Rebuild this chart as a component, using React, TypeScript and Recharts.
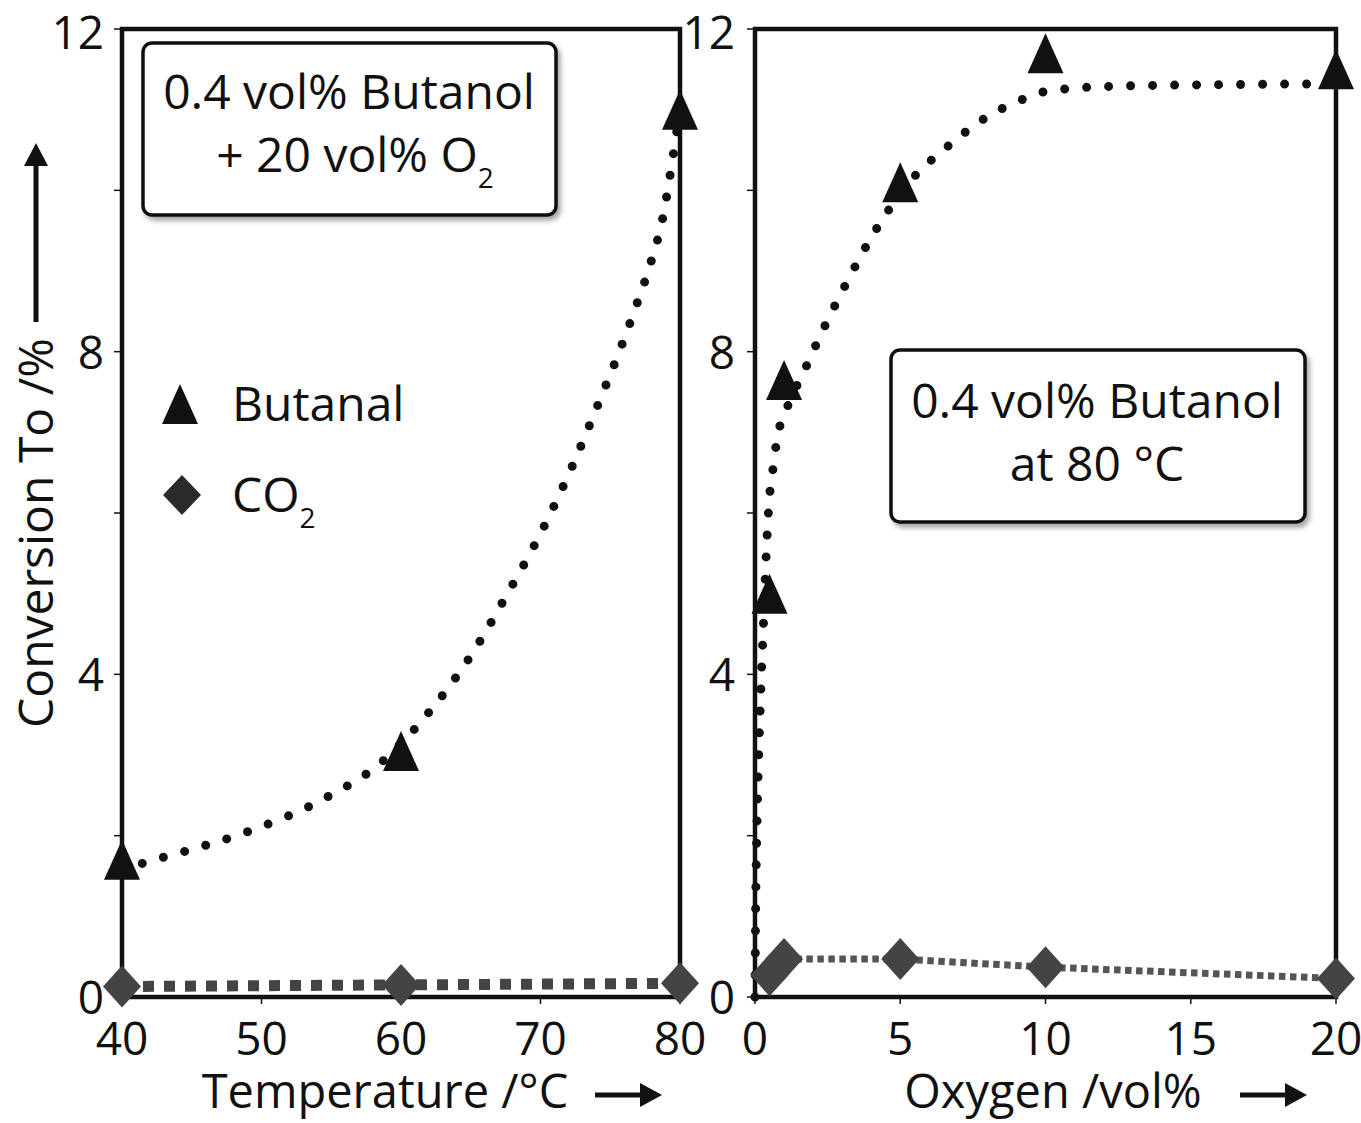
import React from "react";
import {
  ComposedChart,
  Line,
  Scatter,
  XAxis,
  YAxis,
  ReferenceArea,
} from "recharts";

// left panel: temperature series
const tempX = [40, 60, 80];
const tempButanal = [1.7, 3.05, 11.0];
const tempCO2 = [0.13, 0.15, 0.17];
const tempFitX = [40, 41.2, 44, 48.7, 54.5, 58.6, 62, 65, 67.6, 70.1, 72.3, 74.3, 75.6, 76.8, 77.9, 78.8, 79.4, 80];
const tempFitY = [1.55, 1.64, 1.78, 2.03, 2.46, 2.91, 3.53, 4.23, 4.99, 5.78, 6.59, 7.42, 7.98, 8.54, 9.1, 9.69, 10.31, 11.0];
const tempTicks = [40, 50, 60, 70, 80];

// right panel: oxygen series
const oxX = [0.5, 1, 5, 10, 20];
const oxButanal = [5.0, 7.65, 10.1, 11.7, 11.5];
const oxCO2 = [0.27, 0.47, 0.47, 0.37, 0.23];
const oxFitX = [0, 0.02, 0.06, 0.12, 0.2, 0.3, 0.4, 0.5, 0.64, 0.75, 1.05, 1.73, 2.42, 3.19, 4.01, 4.46, 5.41, 6.62, 7.94, 9.3, 10.03, 10.77, 12.3, 16, 20];
const oxFitY = [0, 1.0, 2.0, 2.9, 3.8, 4.7, 5.6, 6.2, 6.6, 6.9, 7.25, 7.79, 8.33, 8.88, 9.42, 9.68, 10.14, 10.54, 10.9, 11.14, 11.23, 11.26, 11.29, 11.31, 11.32];
const oxTicks = [0, 5, 10, 15, 20];

const yTicks = [0, 2, 4, 6, 8, 10, 12];

const FONT = "'Open Sans', 'Noto Sans', sans-serif";
const INK = "#111";
const GREY = "#444";

const pts = (xs: number[], ys: number[]) => xs.map((x, i) => ({ x, y: ys[i] }));

const Triangle = (props: any) => {
  const { cx, cy } = props;
  return <path d={`M${cx},${cy - 20}L${cx + 18},${cy + 20}L${cx - 18},${cy + 20}Z`} fill={INK} />;
};

const Diamond = (props: any) => {
  const { cx, cy } = props;
  return <path d={`M${cx},${cy - 21}L${cx + 19},${cy}L${cx},${cy + 21}L${cx - 19},${cy}Z`} fill={GREY} />;
};

const YTick = (props: any) => {
  const { x, y, payload } = props;
  if (payload.value % 4 !== 0) return <g />;
  // top label nudged down a little so it stays inside the page
  const dy = payload.value === 12 ? 20 : 17;
  return (
    <text x={x} y={y} dy={dy} textAnchor="end" fontSize={46} fontFamily={FONT} fill={INK}>
      {payload.value}
    </text>
  );
};

const XTick = (props: any) => {
  const { x, y, payload } = props;
  return (
    <text x={x} y={y + 49} textAnchor="middle" fontSize={46} fontFamily={FONT} fill={INK}>
      {payload.value}
    </text>
  );
};

function Panel(props: {
  width: number;
  yWidth: number;
  tickMargin: number;
  right: number;
  domain: [number, number];
  ticks: number[];
  fit: { x: number; y: number }[];
  butanal: { x: number; y: number }[];
  co2: { x: number; y: number }[];
  co2Width: number;
  co2Dash: string;
  co2Color: string;
}) {
  const [x0, x1] = props.domain;
  return (
    <ComposedChart width={props.width} height={1123} margin={{ top: 29, right: props.right, bottom: 46, left: 0 }}>
      <XAxis
        type="number"
        dataKey="x"
        domain={props.domain}
        ticks={props.ticks}
        axisLine={false}
        tickLine={{ stroke: INK, strokeWidth: 1.5 }}
        tickSize={7}
        tickMargin={2}
        height={80}
        tick={<XTick />}
        interval={0}
      />
      <YAxis
        type="number"
        dataKey="y"
        domain={[0, 12]}
        ticks={yTicks}
        axisLine={false}
        tickLine={{ stroke: INK, strokeWidth: 1.5 }}
        tickSize={8}
        tickMargin={props.tickMargin}
        width={props.yWidth}
        tick={<YTick />}
        interval={0}
      />
      <ReferenceArea x1={x0} x2={x1} y1={0} y2={12} fill="none" stroke={INK} strokeWidth={4.5} />
      <Line
        data={props.co2}
        dataKey="y"
        type="linear"
        stroke={props.co2Color}
        strokeWidth={props.co2Width}
        strokeDasharray={props.co2Dash}
        dot={false}
        activeDot={false}
        isAnimationActive={false}
      />
      <Line
        data={props.fit}
        dataKey="y"
        type="monotone"
        stroke={INK}
        strokeWidth={9}
        strokeDasharray="0 22"
        strokeLinecap="round"
        dot={false}
        activeDot={false}
        isAnimationActive={false}
      />
      <Scatter data={props.co2} dataKey="y" shape={<Diamond />} isAnimationActive={false} />
      <Scatter data={props.butanal} dataKey="y" shape={<Triangle />} isAnimationActive={false} />
    </ComposedChart>
  );
}

function Overlay() {
  const t = { fontFamily: FONT, fontSize: 48, fill: INK };
  return (
    <svg width={1361} height={1123} style={{ position: "absolute", left: 0, top: 0, pointerEvents: "none" }}>
      <defs>
        <filter id="shadow" x="-10%" y="-10%" width="130%" height="130%">
          <feDropShadow dx="3" dy="4" stdDeviation="2.5" floodColor="#000" floodOpacity="0.35" />
        </filter>
      </defs>

      {/* y axis title with arrow */}
      <text {...t} textAnchor="middle" transform="translate(53,533) rotate(-90)">
        Conversion To /%
      </text>
      <line x1={36} y1={322} x2={36} y2={162} stroke={INK} strokeWidth={5} />
      <path d="M36,143L24,166L48,166Z" fill={INK} />

      {/* x axis titles with arrows */}
      <text {...t} fontSize={47} x={385} y={1108} textAnchor="middle">
        Temperature /°C
      </text>
      <line x1={595} y1={1095} x2={645} y2={1095} stroke={INK} strokeWidth={5} />
      <path d="M662,1095L640,1083L640,1107Z" fill={INK} />
      <text {...t} fontSize={47} x={1053} y={1108} textAnchor="middle">
        Oxygen /vol%
      </text>
      <line x1={1240} y1={1095} x2={1290} y2={1095} stroke={INK} strokeWidth={5} />
      <path d="M1307,1095L1285,1083L1285,1107Z" fill={INK} />

      {/* annotation boxes */}
      <rect x={143} y={43} width={413} height={172} rx={9} fill="#fff" stroke={INK} strokeWidth={3.5} filter="url(#shadow)" />
      <text {...t} x={349} y={109} textAnchor="middle">
        0.4 vol% Butanol
      </text>
      <text {...t} x={355} y={172} textAnchor="middle">
        + 20 vol% O<tspan fontSize={28} dy={16}>2</tspan>
      </text>

      <rect x={891} y={350} width={414} height={172} rx={9} fill="#fff" stroke={INK} strokeWidth={3.5} filter="url(#shadow)" />
      <text {...t} x={1097} y={418} textAnchor="middle">
        0.4 vol% Butanol
      </text>
      <text {...t} x={1097} y={481} textAnchor="middle">
        at 80 °C
      </text>

      {/* legend */}
      <path d="M180,384L198,424L162,424Z" fill={INK} />
      <text {...t} x={232} y={421}>
        Butanal
      </text>
      <path d="M182,475L201,495L182,515L163,495Z" fill="#2a2a2a" />
      <text {...t} x={232} y={512}>
        CO<tspan fontSize={28} dy={16}>2</tspan>
      </text>
    </svg>
  );
}

export default function App() {
  return (
    <div style={{ position: "absolute", left: 0, top: 0, width: 1361, height: 1123, background: "#fff", overflow: "hidden" }}>
      <div style={{ position: "absolute", left: 0, top: 0 }}>
        <Panel
          width={740}
          yWidth={122}
          tickMargin={10}
          right={60}
          domain={[40, 80]}
          ticks={tempTicks}
          fit={pts(tempFitX, tempFitY)}
          butanal={pts(tempX, tempButanal)}
          co2={pts(tempX, tempCO2)}
          co2Width={11}
          co2Dash="11 10"
          co2Color={GREY}
        />
      </div>
      <div style={{ position: "absolute", left: 640, top: 0 }}>
        <Panel
          width={760}
          yWidth={115}
          tickMargin={12}
          right={64}
          domain={[0, 20]}
          ticks={oxTicks}
          fit={pts(oxFitX, oxFitY)}
          butanal={pts(oxX, oxButanal)}
          co2={pts(oxX, oxCO2)}
          co2Width={7}
          co2Dash="6.5 4.5"
          co2Color="#555"
        />
      </div>
      <Overlay />
    </div>
  );
}
